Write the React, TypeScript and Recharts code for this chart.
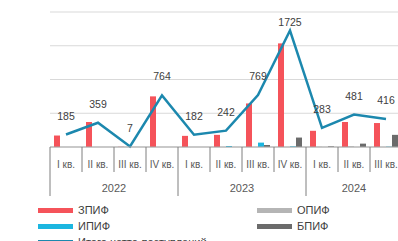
import React from "react";
import { ComposedChart, Bar, Line, XAxis, YAxis, CartesianGrid, LabelList } from "recharts";

const quarters = ["I кв.", "II кв.", "III кв.", "IV кв.", "I кв.", "II кв.", "III кв.", "IV кв.", "I кв.", "II кв.", "III кв."];
const years = ["2022", "2022", "2022", "2022", "2023", "2023", "2023", "2023", "2024", "2024", "2024"];
const zpif = [170, 370, 3, 750, 165, 180, 645, 1535, 240, 370, 355];
const opif = [0, 0, 0, 0, 0, 0, 0, 0, 3, 10, 0];
const ipif = [0, 0, 0, 0, 0, 15, 65, 10, 0, 0, 5];
const bpif = [0, 0, 0, 0, 0, 0, 30, 140, 10, 50, 180];
const total = [185, 359, 7, 764, 182, 242, 769, 1725, 283, 481, 416];
const yTicks = [0, 500, 1000, 1500, 2000];

const series = [
  { key: "zpif", name: "ЗПИФ", color: "#f5535a" },
  { key: "opif", name: "ОПИФ", color: "#b5b5b5" },
  { key: "ipif", name: "ИПИФ", color: "#1cb6e0" },
  { key: "bpif", name: "БПИФ", color: "#6b6b6b" },
];
const lineSeries = { key: "total", name: "Итого нетто-поступлений", color: "#1c88ae" };

const data = quarters.map((q, i) => ({
  id: i,
  quarter: q,
  year: years[i],
  zpif: zpif[i],
  opif: opif[i],
  ipif: ipif[i],
  bpif: bpif[i],
  total: total[i],
}));

const CHART_W = 410;
const CHART_H = 241;
const M_LEFT = 50;
const M_RIGHT = 8;
const BAND = (CHART_W - M_LEFT - M_RIGHT) / data.length;
const FONT = "'Liberation Sans', Arial, sans-serif";

const QuarterTick = (props: any) => {
  const { x, y, payload } = props;
  const i = Number(payload.value);
  const d = data[i];
  const left = x - BAND / 2;
  const first = i === 0 || data[i - 1].year !== d.year;
  let count = 0;
  if (first) {
    for (let k = i; k < data.length && data[k].year === d.year; k++) count++;
  }
  return (
    <g>
      <line x1={left} x2={left} y1={y} y2={y + (first ? 49 : 25)} stroke="#7f7f7f" strokeWidth={1} />
      <text x={x} y={y + 21} textAnchor="middle" fontSize={10} fill="#595959" fontFamily={FONT}>
        {d.quarter}
      </text>
      {first && (
        <text x={left + (count * BAND) / 2} y={y + 45} textAnchor="middle" fontSize={11} fill="#595959" fontFamily={FONT}>
          {d.year}
        </text>
      )}
    </g>
  );
};

const TotalLabel = (props: any) => {
  const { x, y, value } = props;
  const off = y - 19 < 24 ? 9 : 19;
  return (
    <text x={x} y={y - off + 4} textAnchor="middle" fontSize={10.5} fill="#404040" fontFamily={FONT}>
      {value}
    </text>
  );
};

const legendItems = [
  { ...series[0], left: 38, top: 210 },
  { ...series[1], left: 257, top: 210 },
  { ...series[2], left: 38, top: 226 },
  { ...series[3], left: 257, top: 226 },
  { ...lineSeries, left: 38, top: 242 },
];

export default function App() {
  return (
    <div
      style={{
        position: "fixed",
        left: 0,
        top: 0,
        width: 398,
        height: 241,
        overflow: "hidden",
        background: "#fff",
      }}
    >
      <ComposedChart
        width={CHART_W}
        height={CHART_H}
        data={data}
        margin={{ top: 12, right: M_RIGHT, left: M_LEFT, bottom: 0 }}
        barCategoryGap={4}
        barGap={0}
      >
        <CartesianGrid vertical={false} stroke="#d9d9d9" strokeWidth={1} />
        <XAxis
          dataKey="id"
          height={94}
          interval={0}
          tickLine={false}
          tickSize={0}
          tickMargin={0}
          axisLine={{ stroke: "#a6a6a6" }}
          tick={<QuarterTick />}
        />
        <YAxis hide domain={[0, 2000]} ticks={yTicks} width={0} />
        {series.map((s) => (
          <Bar key={s.key} dataKey={s.key} name={s.name} fill={s.color} isAnimationActive={false} />
        ))}
        <Line
          dataKey={lineSeries.key}
          name={lineSeries.name}
          stroke={lineSeries.color}
          strokeWidth={2.5}
          dot={false}
          type="linear"
          isAnimationActive={false}
        >
          <LabelList dataKey="total" content={<TotalLabel />} />
        </Line>
      </ComposedChart>
      {legendItems.map((it) => (
        <div
          key={it.key}
          style={{
            position: "absolute",
            left: it.left,
            top: it.top - 7,
            height: 14,
            display: "flex",
            alignItems: "center",
            fontFamily: FONT,
            fontSize: 11,
            color: "#404040",
            whiteSpace: "nowrap",
          }}
        >
          <span style={{ display: "inline-block", width: 35, height: 5, background: it.color, marginRight: 5 }} />
          <span>{it.name}</span>
        </div>
      ))}
    </div>
  );
}
